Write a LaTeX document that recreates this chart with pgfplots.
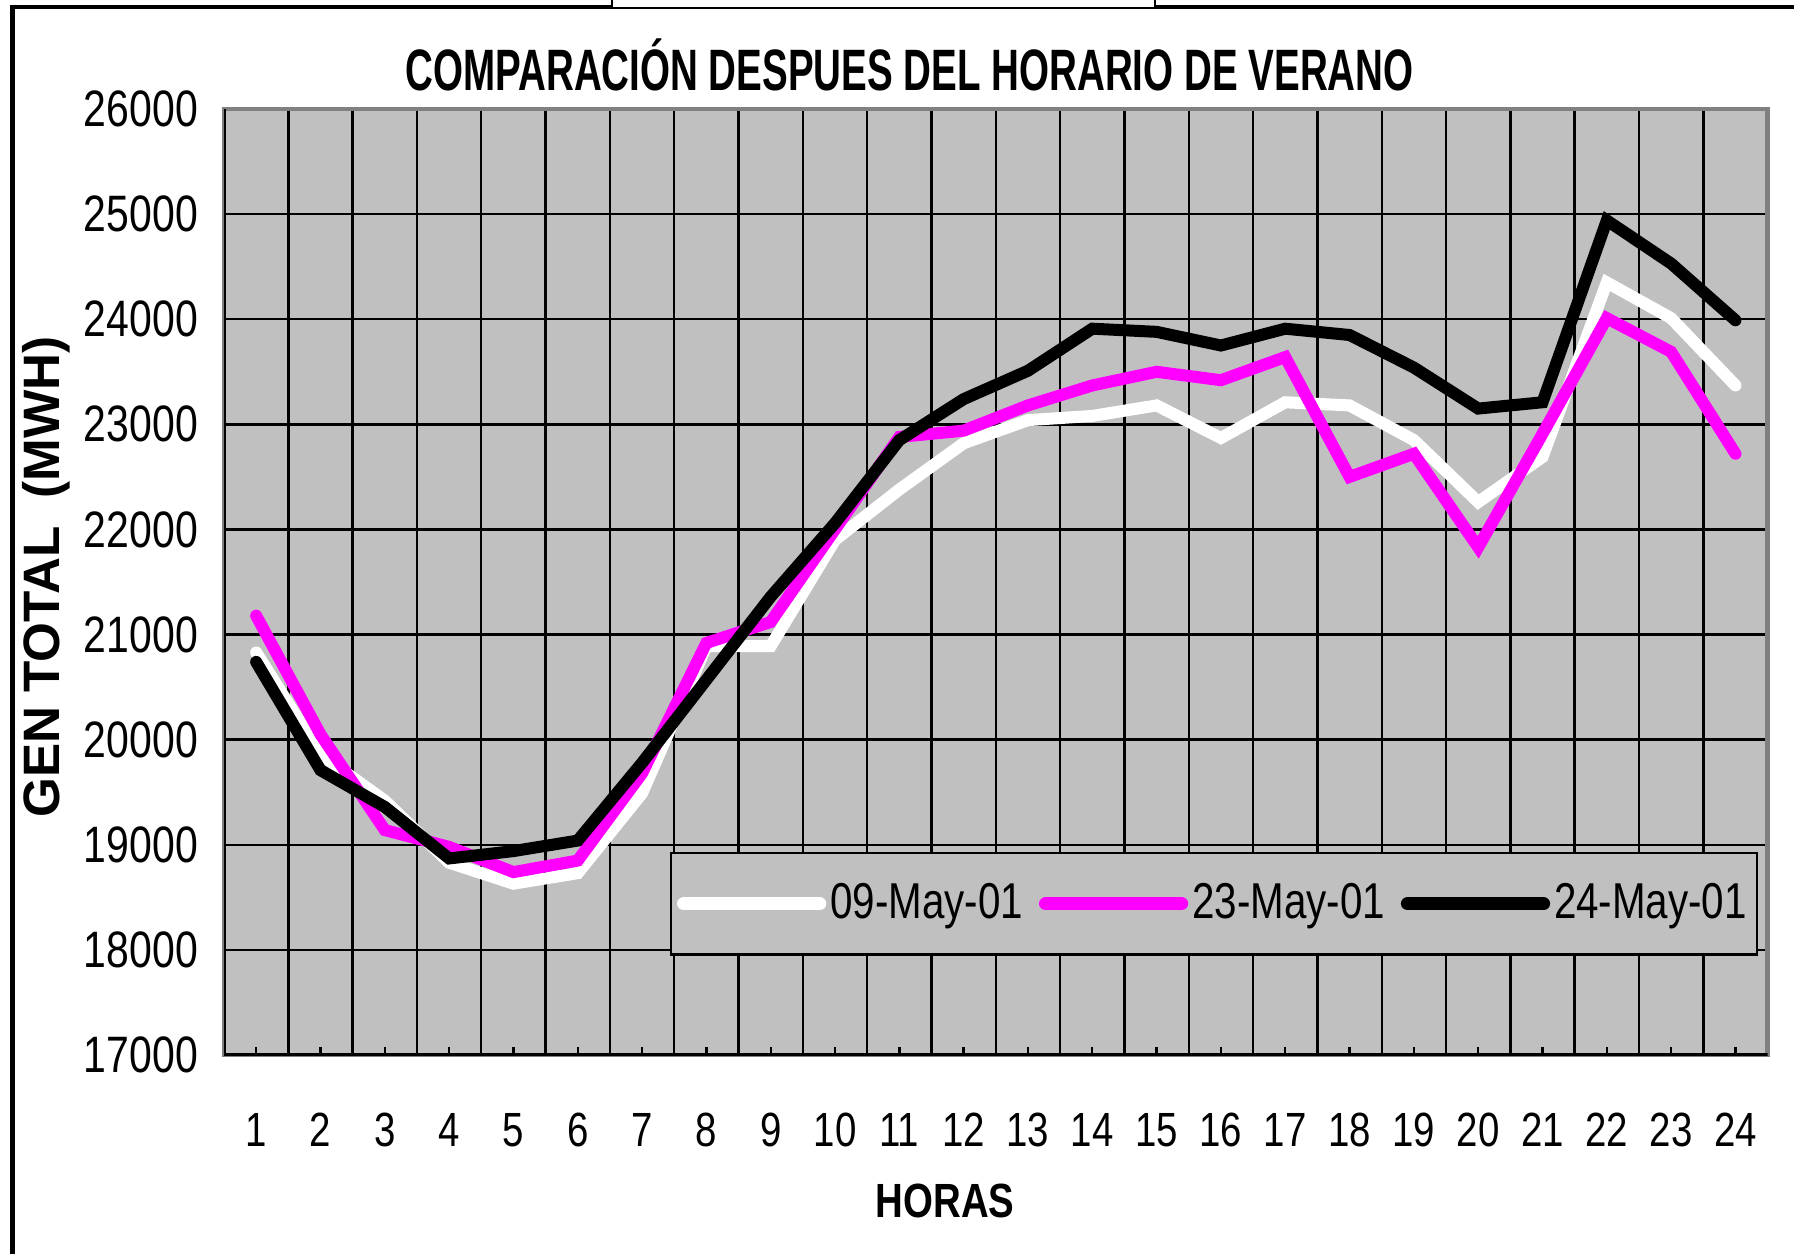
\documentclass[border=0pt]{standalone}
\usepackage{pgfplots}
\pgfplotsset{compat=1.18}
\usepackage{fontspec}
\setmainfont{Liberation Sans}[FakeStretch=0.8]
\newfontfamily\titlefont{Liberation Sans}[FakeStretch=0.66]
\newfontfamily\widefont{Liberation Sans}
\definecolor{plotgray}{RGB}{192,192,192}
\definecolor{edgegray}{RGB}{128,128,128}
\definecolor{mag}{RGB}{255,0,255}

\begin{document}
\begin{tikzpicture}
\path[use as bounding box] (0pt,0pt) rectangle (448.5pt,313.5pt);
% outer frame
\draw[line width=1.2pt] (3.1pt,0pt) -- (3.1pt,311.75pt) -- (153pt,311.75pt);
\draw[line width=1.2pt] (288.75pt,311.75pt) -- (448.5pt,311.75pt);
\draw[line width=0.5pt] (153pt,313.5pt) -- (153pt,311.4pt) -- (288.75pt,311.4pt) -- (288.75pt,313.5pt);

\begin{axis}[
  at={(56pt,49.75pt)}, anchor=south west,
  width=385.9pt, height=236.5pt, scale only axis,
  xmin=0.5, xmax=24.5, ymin=17000, ymax=26000,
  xtick={1,...,24}, ytick={17000,18000,19000,20000,21000,22000,23000,24000,25000,26000},
  minor xtick={1.5,2.5,...,23.5},
  scaled y ticks=false,
  ymajorgrids, xminorgrids,
  grid style={black, line width=0.6pt},
  minor grid style={black, line width=0.6pt},
  axis background/.style={fill=plotgray},
  axis line style={edgegray, line width=1.2pt},
  major tick length=0pt, minor tick length=0pt,
  xtick pos=bottom, ytick pos=left,
  /pgf/number format/.cd, 1000 sep={}, assume math mode=true, /pgfplots/.cd,
  yticklabel style={font=\fontsize{12.8}{14}\selectfont, xshift=-3pt},
  xticklabel style={font=\fontsize{12}{14}\selectfont, yshift=-11pt},
  legend columns=3,
  legend style={at={(rel axis cs:0.9938,0.2146)}, anchor=north east,
    fill=plotgray, draw=black, line width=0.6pt,
    font=\fontsize{12.6}{14}\selectfont,
    inner xsep=1.5pt, inner ysep=5.5pt,
    nodes={inner xsep=1pt},
    /tikz/every even column/.append style={column sep=3pt}},
  legend cell align=left,
  legend image code/.code={\draw[#1, line width=3.3pt, line cap=round] (0pt,0pt) -- (34pt,0pt);},
]
\addplot[white, line width=3pt, line cap=round] coordinates {
(1,20830) (2,19860) (3,19420) (4,18830) (5,18630) (6,18730) (7,19490) (8,20890)
(9,20890) (10,21900) (11,22380) (12,22820) (13,23040) (14,23080) (15,23180) (16,22870)
(17,23210) (18,23180) (19,22850) (20,22260) (21,22690) (22,24350) (23,24010) (24,23370)};
\addlegendentry{09-May-01}
\addplot[mag, line width=3pt, line cap=round] coordinates {
(1,21180) (2,20050) (3,19140) (4,18980) (5,18740) (6,18850) (7,19680) (8,20920)
(9,21120) (10,22000) (11,22880) (12,22940) (13,23180) (14,23370) (15,23500) (16,23420)
(17,23640) (18,22500) (19,22720) (20,21830) (21,22910) (22,24010) (23,23690) (24,22720)};
\addlegendentry{23-May-01}
\addplot[black, line width=3pt, line cap=round] coordinates {
(1,20740) (2,19710) (3,19360) (4,18870) (5,18940) (6,19040) (7,19780) (8,20570)
(9,21360) (10,22060) (11,22850) (12,23240) (13,23510) (14,23910) (15,23880) (16,23750)
(17,23910) (18,23850) (19,23540) (20,23150) (21,23210) (22,24940) (23,24530) (24,23990)};
\addlegendentry{24-May-01}
% inward x tick marks, outward y tick marks, black left/bottom axis lines
\pgfplotsinvokeforeach{1,...,24}{\draw[black, line width=0.6pt] (axis cs:#1,17000) -- ++(0pt,2pt);}
\pgfplotsinvokeforeach{0,0.1111,0.2222,0.3333,0.4444,0.5556,0.6667,0.7778,0.8889,1}{\draw[black, line width=0.6pt] (rel axis cs:0,#1) -- ++(-3.3pt,0pt);}
\draw[black, line width=1.2pt] (rel axis cs:0,1) -- (rel axis cs:0,0) -- (rel axis cs:1,0);
\end{axis}

\node[font=\titlefont\bfseries\fontsize{14.6}{16}\selectfont] at (227.4pt,297.2pt) {COMPARACIÓN DESPUES DEL HORARIO DE VERANO};
\node[rotate=90, font=\widefont\bfseries\fontsize{12.8}{14}\selectfont] at (11.5pt,169.3pt) {GEN TOTAL~ (MWH)};
\node[font=\bfseries\fontsize{12}{14}\selectfont] at (236.3pt,13.2pt) {HORAS};
\end{tikzpicture}
\end{document}
